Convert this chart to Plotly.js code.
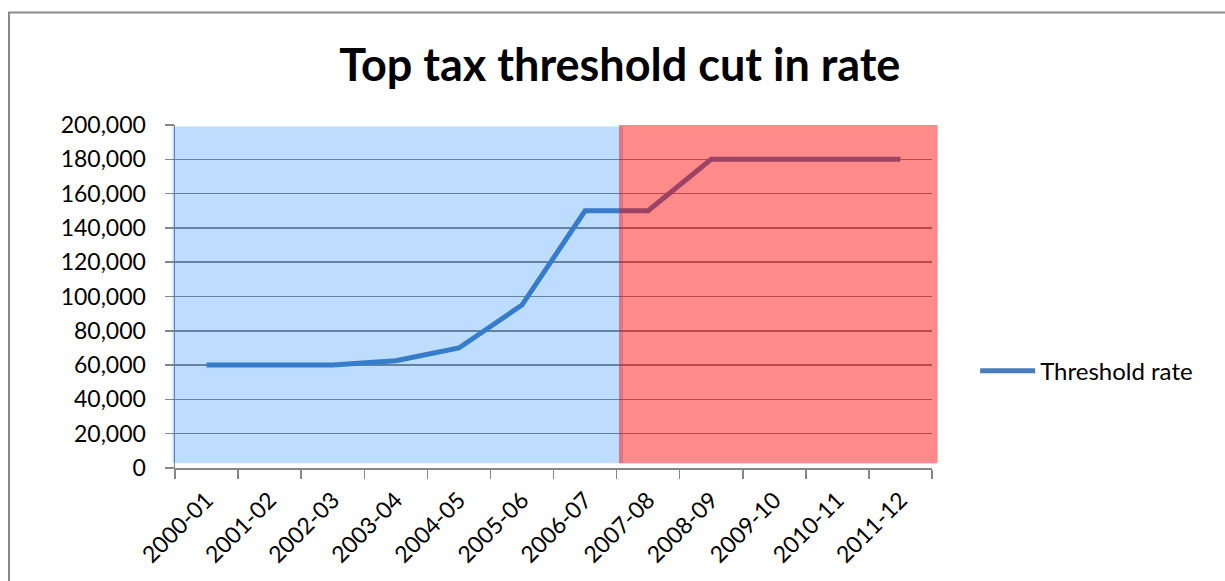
<!DOCTYPE html>
<html>
<head>
<meta charset="utf-8">
<script src="https://cdn.plot.ly/plotly-3.0.1.min.js"></script>
<style>
  html, body { margin: 0; padding: 0; background: #ffffff; }
  #chart { width: 1225px; height: 581px; }
</style>
</head>
<body>
<div id="chart"></div>
<script>
// ---- data ----
const years = ["2000-01", "2001-02", "2002-03", "2003-04", "2004-05", "2005-06",
               "2006-07", "2007-08", "2008-09", "2009-10", "2010-11", "2011-12"];
const thresholdRate = [60000, 60000, 60000, 62500, 70000, 95000,
                       150000, 150000, 180000, 180000, 180000, 180000];
const seriesName = "Threshold rate";
const chartTitle = "Top tax threshold cut in rate";
const yTicks = [0, 20000, 40000, 60000, 80000, 100000, 120000, 140000, 160000, 180000, 200000];
const yTickText = ["0", "20,000", "40,000", "60,000", "80,000", "100,000", "120,000",
                   "140,000", "160,000", "180,000", "200,000"];

const FONT = "Lato, 'Open Sans', sans-serif";
const GRID = "#868686";

const trace = {
  type: "scatter",
  mode: "lines",
  x: years,
  y: thresholdRate,
  name: seriesName,
  line: { color: "#4A7EBB", width: 5 },
  showlegend: true
};

const layout = {
  width: 1225,
  height: 581,
  paper_bgcolor: "#ffffff",
  plot_bgcolor: "#ffffff",
  margin: { l: 175, r: 293, t: 125, b: 113, pad: 0 },
  font: { family: FONT, color: "#000000" },
  title: {
    text: "<b>" + chartTitle + "</b>",
    font: { family: FONT, size: 45, color: "#000000" },
    xref: "container", yref: "container",
    x: 0.506, xanchor: "center",
    y: 0.888, yanchor: "middle"
  },
  xaxis: {
    type: "category",
    range: [-0.5, 11.5],
    showgrid: false,
    showline: true, linecolor: GRID, linewidth: 1.5,
    ticks: "outside", ticklen: 9, tickwidth: 1.5, tickcolor: GRID,
    tickson: "boundaries",
    tickangle: -45,
    tickfont: { family: FONT, size: 23, color: "#000000" },
    ticklabelstandoff: 8,
    fixedrange: true
  },
  yaxis: {
    range: [0, 200000],
    tickvals: yTicks,
    ticktext: yTickText,
    showgrid: true, gridcolor: GRID, gridwidth: 1.5,
    showline: true, linecolor: GRID, linewidth: 1.5,
    ticks: "outside", ticklen: 9, tickwidth: 1.5, tickcolor: GRID,
    tickfont: { family: FONT, size: 23, color: "#000000" },
    ticklabelstandoff: 14,
    zeroline: false,
    fixedrange: true
  },
  legend: {
    x: 1.057, xanchor: "left",
    y: 0.282, yanchor: "middle",
    font: { family: FONT, size: 24, color: "#000000" },
    itemwidth: 55,
    bgcolor: "rgba(0,0,0,0)"
  },
  shapes: [
    { type: "rect", xref: "paper", yref: "paper", layer: "above",
      x0: -0.0033, x1: 0.5918, y0: 0.0135, y1: 0.9955,
      fillcolor: "rgba(0,120,250,0.26)", line: { width: 0 } },
    { type: "rect", xref: "paper", yref: "paper", layer: "above",
      x0: 0.5865, x1: 1.0075, y0: 0.0135, y1: 1.0,
      fillcolor: "rgba(255,0,0,0.46)", line: { width: 0 } },
    { type: "rect", xref: "paper", yref: "paper", layer: "above",
      x0: -0.2193, x1: 1.42, y0: -0.40, y1: 1.328,
      fillcolor: "rgba(0,0,0,0)", line: { color: "#8a8a8a", width: 2 } }
  ]
};

Plotly.newPlot("chart", [trace], layout, { displayModeBar: false, staticPlot: true });
</script>
</body>
</html>
